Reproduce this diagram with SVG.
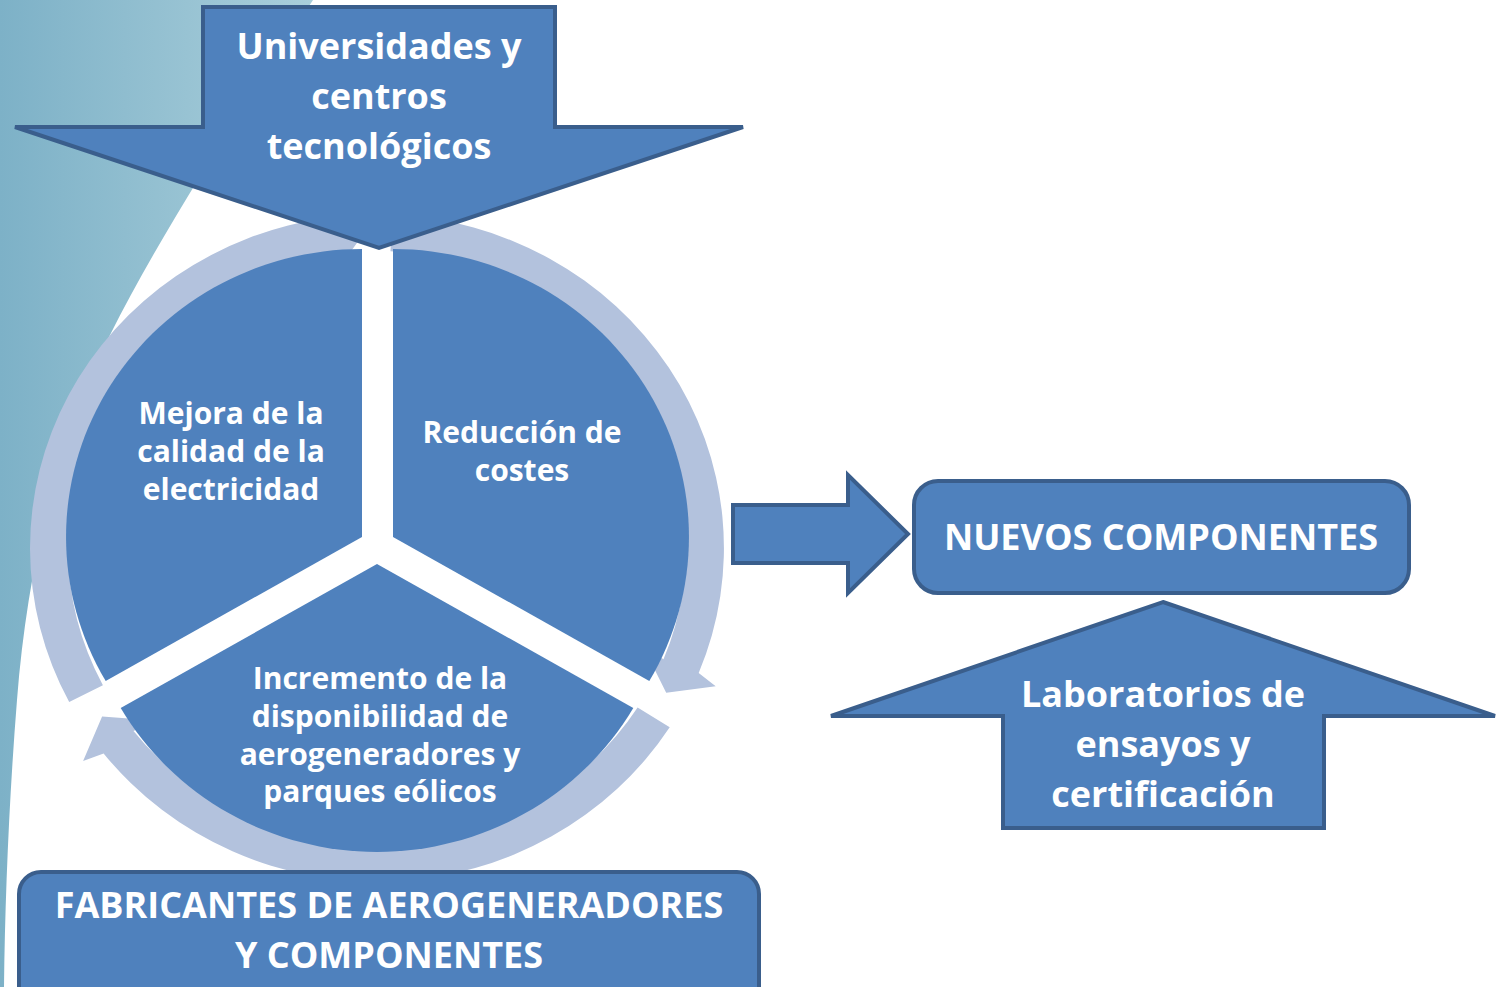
<svg xmlns="http://www.w3.org/2000/svg" width="1500" height="987" viewBox="0 0 1500 987">
  <defs>
    <linearGradient id="teal" x1="0" y1="0" x2="1" y2="0">
      <stop offset="0" stop-color="#7DB1C7"/>
      <stop offset="1" stop-color="#AACFDB"/>
    </linearGradient>
    <style>
      .shape { fill: #4F81BD; stroke: #3A5E8C; stroke-width: 4; stroke-linejoin: miter; }
      .seg { fill: #4F81BD; }
      .ring { fill: #B3C2DD; }
      .t { font-family: "Open Sans", "Liberation Sans", sans-serif; font-weight: 700; fill: #FFFFFF; text-anchor: middle; }
      .t36 { font-size: 36px; }
      .t30 { font-size: 30px; }
    </style>
  </defs>
  <rect x="0" y="0" width="1500" height="987" fill="#FFFFFF"/>
  <path id="background" d="M313,0 C235,120 160,235 110,335 C60,435 28,560 17,700 C9,800 5,900 4,987 L0,987 L0,0 Z" fill="url(#teal)"/>

  <g id="connectors">
    <path id="arc-right" class="ring" d="M392.1,214.7 A347,333.7 0 0 1 698.7,673.0 L715.7,686.3 L666.2,692.7 L643.1,646.2 L663.5,659.3 A309,297.1 0 0 0 390.5,251.2 Z"/>
    <path id="arc-bottom" class="ring" d="M669.7,727.3 A347,333.7 0 0 1 103.6,753.4 L83.1,761.0 L102.1,716.4 L155.5,720.5 L133.5,730.9 A309,297.1 0 0 0 637.6,707.6 Z"/>
    <path id="arc-left" class="ring" d="M69.2,702.1 A347,333.7 0 0 1 328.7,217.6 L332.2,196.8 L362.8,234.8 L332.4,277.3 L334.0,253.8 A309,297.1 0 0 0 102.9,685.2 Z"/>
    <path id="arrow-right" class="shape" d="M733,505 L848,505 L848,475 L908,534 L848,593 L848,563 L733,563 Z"/>
  </g>

  <g id="seg-mejora">
    <path class="seg" d="M362,537 L105.7,681 A296,288 0 0 1 362,249 Z"/>
    <text class="t t30" x="231" y="424">Mejora de la</text>
    <text class="t t30" x="231" y="462">calidad de la</text>
    <text class="t t30" x="231" y="500">electricidad</text>
  </g>

  <g id="seg-reduccion">
    <path class="seg" d="M393,537 L393,249 A296,288 0 0 1 649.3,681 Z"/>
    <text class="t t30" x="522" y="443">Reducción de</text>
    <text class="t t30" x="522" y="481">costes</text>
  </g>

  <g id="seg-incremento">
    <path class="seg" d="M377,564 L633.3,708 A296,288 0 0 1 120.7,708 Z"/>
    <text class="t t30" x="380" y="689">Incremento de la</text>
    <text class="t t30" x="380" y="727">disponibilidad de</text>
    <text class="t t30" x="380" y="765">aerogeneradores y</text>
    <text class="t t30" x="380" y="802">parques eólicos</text>
  </g>

  <g id="universidades">
    <path class="shape" d="M203,7 L555,7 L555,127 L743,127 L379,248 L15,127 L203,127 Z"/>
    <text class="t t36" x="379" y="59">Universidades y</text>
    <text class="t t36" x="379" y="109">centros</text>
    <text class="t t36" x="379" y="159">tecnológicos</text>
  </g>

  <g id="nuevos-componentes">
    <rect class="shape" x="914" y="481" width="495" height="112" rx="24" ry="24"/>
    <text class="t t36" x="1161" y="550">NUEVOS COMPONENTES</text>
  </g>

  <g id="laboratorios">
    <path class="shape" d="M1163,602 L1495,716 L1324,716 L1324,828 L1003,828 L1003,716 L831,716 Z"/>
    <text class="t t36" x="1163" y="707">Laboratorios de</text>
    <text class="t t36" x="1163" y="757">ensayos y</text>
    <text class="t t36" x="1163" y="807">certificación</text>
  </g>

  <g id="fabricantes">
    <rect class="shape" x="19" y="872" width="740" height="140" rx="22" ry="22"/>
    <text class="t t36" x="389" y="918">FABRICANTES DE AEROGENERADORES</text>
    <text class="t t36" x="389" y="968">Y COMPONENTES</text>
  </g>
</svg>
